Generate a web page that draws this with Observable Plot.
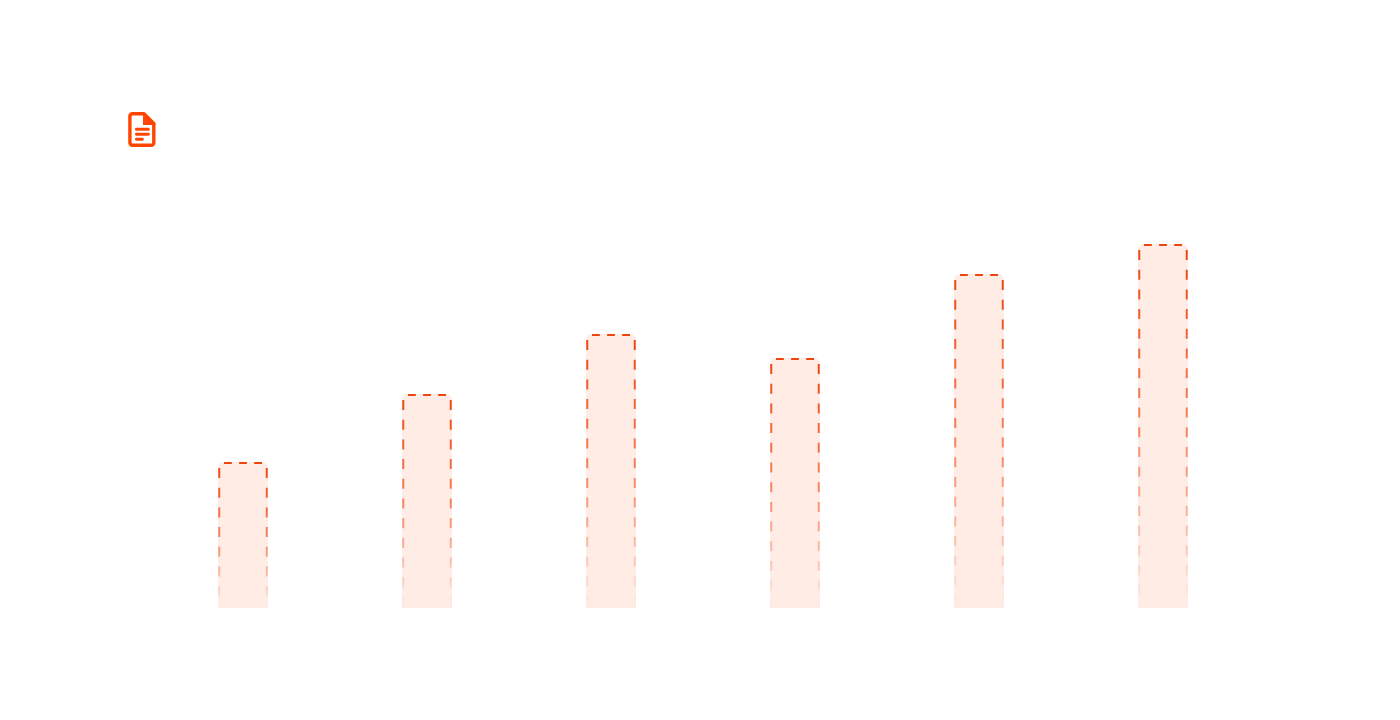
<!DOCTYPE html>
<html><head><meta charset="utf-8">
<script src="https://cdn.jsdelivr.net/npm/d3@7"></script>
<script src="https://cdn.jsdelivr.net/npm/@observablehq/plot@0.6"></script>
<style>html,body{margin:0;background:#fff}#wrap{position:relative;width:1400px;height:720px}svg{display:block}
#icon{position:absolute;left:120px;top:108px}</style></head>
<body><div id="wrap"><div id="chart"></div>
<svg id="icon" width="44" height="44" viewBox="120 108 44 44"><path fill="none" stroke="#ff4500" stroke-width="3.4" stroke-linejoin="round" d="M144 113.7H132.4a2.5 2.5 0 0 0-2.5 2.5V142.8a2.5 2.5 0 0 0 2.5 2.5H151.3a2.5 2.5 0 0 0 2.5-2.5V123.5Z"/><path fill="#ff4500" d="M143 113l12.5 10.5v1.5h-12.5z"/><path stroke="#ff4500" stroke-width="2.9" stroke-linecap="round" d="M136.4 129.3h12M136.4 134.3h12M136.4 139.3h6"/></svg>
</div>
<script>
const categories = ["A","B","C","D","E","F"];
const values = [73,107,137,125,167,182];
const rows = categories.map((c,i)=>({c,v:values[i],i}));
const orange = "#ff4500";
const line = "#ee4510";
const chart = Plot.plot({
  width:1400,height:720,marginLeft:84,marginRight:78,marginTop:208,marginBottom:112,
  style:{background:"#fff"},
  x:{domain:categories,padding:0.7283,align:0.5,round:false,axis:null},
  y:{domain:[0,200],axis:null},
  marks:[
    (index,scales)=>{const d=d3.create("svg:defs");
      rows.forEach(r=>{
        const g=d.append("linearGradient").attr("id","fade"+r.i).attr("gradientUnits","userSpaceOnUse")
          .attr("x1",0).attr("x2",0).attr("y1",scales.y(r.v)).attr("y2",scales.y(0));
        g.append("stop").attr("offset",0).attr("stop-color",line).attr("stop-opacity",1);
        g.append("stop").attr("offset",0.5).attr("stop-color",line).attr("stop-opacity",0.62);
        g.append("stop").attr("offset",1).attr("stop-color",line).attr("stop-opacity",0);
      });
      return d.node();},
    Plot.barY(rows,{x:"c",y:"v",fill:orange,fillOpacity:0.1,ry1:6}),
    ...rows.flatMap(r=>[-24.25,23.25].map(dx=>Plot.ruleX([r],{x:"c",y1:d=>d.v-3,y2:0,dx,stroke:`url(#fade${r.i})`,strokeWidth:2,strokeDasharray:"10 9.7"}))),
    Plot.tickY(rows,{x:"c",y:"v",dy:0.5,insetLeft:6,insetRight:6,stroke:line,strokeWidth:2,strokeDasharray:"7.8 7.3"})
  ]
});
document.getElementById("chart").append(chart);
</script></body></html>
